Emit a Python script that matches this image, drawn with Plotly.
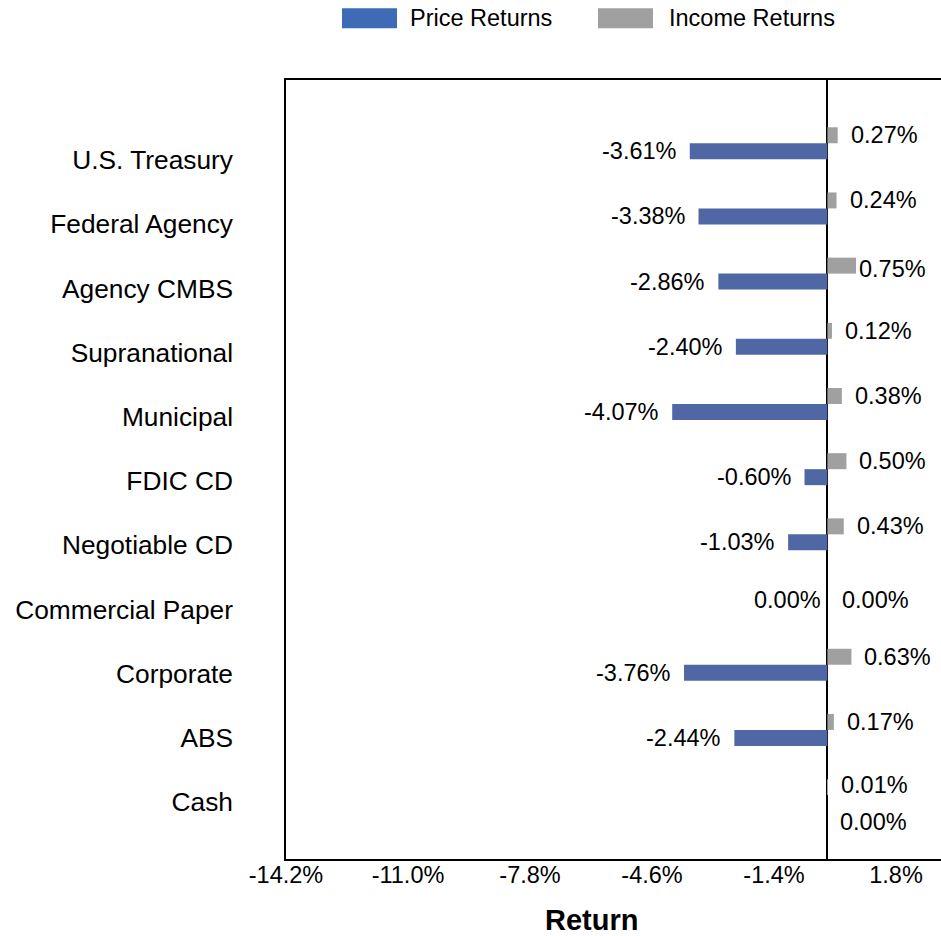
import plotly.graph_objects as go

# ---------------- data ----------------
categories = ["U.S. Treasury", "Federal Agency", "Agency CMBS", "Supranational", "Municipal",
              "FDIC CD", "Negotiable CD", "Commercial Paper", "Corporate", "ABS", "Cash"]
price_returns = [-3.61, -3.38, -2.86, -2.40, -4.07, -0.60, -1.03, 0.00, -3.76, -2.44, 0.00]
income_returns = [0.27, 0.24, 0.75, 0.12, 0.38, 0.50, 0.43, 0.00, 0.63, 0.17, 0.01]
x_tick_values = [-14.2, -11.0, -7.8, -4.6, -1.4, 1.8]
x_tick_labels = [f"{v:.1f}%" for v in x_tick_values]
series_names = ["Price Returns", "Income Returns"]
axis_title = "Return"

# ---------------- style / layout ----------------
W, H = 941, 936
L, R, T, B = 286, 0, 80, 77
FONT = "Liberation Sans, Arial, sans-serif"
BLUE_BAR = "#4F67A5"
BLUE_LEG = "#3F6AB5"
GRAY = "#A0A0A0"

pw, ph = W - L - R, H - T - B
def px2x(px):
    return (px - L) / pw
def py2y(py):
    return (H - B - py) / ph

# label nudges (side, yshift px, xshift px) for labels Excel moved
label_nudge = {
    ("price", "Commercial Paper"): ("left", 0, -4),
    ("income", "Commercial Paper"): ("right", 0, 13),
    ("price", "Cash"): ("right", -27, 11),
    ("income", "Cash"): ("right", 10, 11),
    ("income", "Agency CMBS"): ("right", 5, 1),
}

fig = go.Figure()
fig.add_trace(go.Bar(y=categories, x=income_returns, orientation="h", name=series_names[1],
                     marker=dict(color=GRAY, line=dict(width=0)), showlegend=False))
fig.add_trace(go.Bar(y=categories, x=price_returns, orientation="h", name=series_names[0],
                     marker=dict(color=BLUE_BAR, line=dict(width=0)), showlegend=False))
# invisible trace that carries the category-label axis
fig.add_trace(go.Scatter(x=[None], y=[None], yaxis="y2", showlegend=False, hoverinfo="skip"))

annotations = []
for key, vals, base_dy in (("income", income_returns, 8), ("price", price_returns, -8)):
    for cat, v in zip(categories, vals):
        side = "left" if v < 0 else "right"
        dy = base_dy
        dx = -11 if side == "left" else 11
        if (key, cat) in label_nudge:
            side, dy, dx = label_nudge[(key, cat)]
        annotations.append(dict(
            x=v, y=cat, xref="x", yref="y", text=f"{v:.2f}%", showarrow=False,
            xanchor="right" if side == "left" else "left",
            xshift=dx, yshift=dy,
            font=dict(family=FONT, size=23.5, color="#000000")))

# axis title
annotations.append(dict(x=px2x(591.5), y=py2y(920), xref="paper", yref="paper", text=f"<b>{axis_title}</b>",
                        showarrow=False, xanchor="center", yanchor="middle",
                        font=dict(family=FONT, size=29, color="#000000")))

# custom legend
shapes = []
legend_items = [(series_names[0], BLUE_LEG, 342, 397, 408), (series_names[1], GRAY, 598, 653, 667)]
for name, col, x0, x1, tx in legend_items:
    shapes.append(dict(type="rect", xref="paper", yref="paper", x0=px2x(x0), x1=px2x(x1),
                       y0=py2y(28.3), y1=py2y(8.3), fillcolor=col, line=dict(width=0)))
    annotations.append(dict(x=px2x(tx), y=py2y(18.5), xref="paper", yref="paper", text=name,
                            showarrow=False, xanchor="left", yanchor="middle",
                            font=dict(family=FONT, size=23.5, color="#000000")))

# category-label axis: labels 64.2 px apart, first at 160 px
lab_first, lab_step = 160.0, 64.2
lab_top = -(lab_first - T) / lab_step
lab_bot = (H - B - lab_first) / lab_step

fig.update_layout(
    width=W, height=H,
    margin=dict(l=L, r=R, t=T, b=B, pad=0),
    paper_bgcolor="white", plot_bgcolor="white",
    barmode="group", bargap=0.51, bargroupgap=0,
    showlegend=False,
    font=dict(family=FONT, color="#000000"),
    annotations=annotations,
    shapes=shapes,
    xaxis=dict(range=[-14.2, 2.98], tickvals=x_tick_values, ticktext=x_tick_labels,
               showgrid=False, zeroline=True, zerolinecolor="#000000", zerolinewidth=2,
               showline=True, mirror=True, linecolor="#000000", linewidth=2,
               ticks="", ticklabelstandoff=-6,
               tickfont=dict(family=FONT, size=23.5, color="#000000")),
    yaxis=dict(type="category", categoryorder="array", categoryarray=categories,
               range=[10.98, -0.97], showgrid=False, zeroline=False,
               showline=True, mirror=False, linecolor="#000000", linewidth=2,
               ticks="", showticklabels=False),
    yaxis2=dict(overlaying="y", side="left", range=[lab_bot, lab_top],
                tickvals=list(range(len(categories))), ticktext=categories,
                showgrid=False, zeroline=False, showline=False, ticks="",
                ticklabelstandoff=52,
                tickfont=dict(family=FONT, size=26.3, color="#000000")),
)

fig.write_html("out.html", config={"displayModeBar": False},
               post_script="document.body.style.margin='0';document.body.style.overflow='hidden';")
